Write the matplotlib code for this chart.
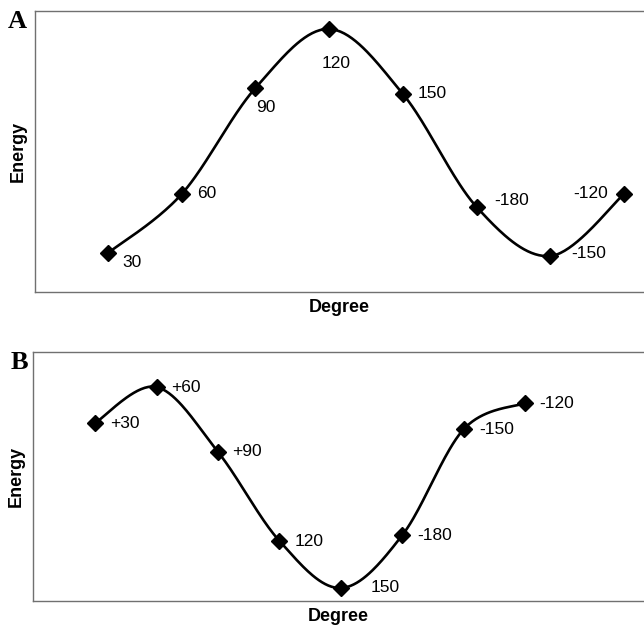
import numpy as np
import matplotlib
matplotlib.use("Agg")
import matplotlib.pyplot as plt

plt.rcParams['font.family'] = ['Liberation Sans', 'DejaVu Sans']

# panel A: conformers and relative energy (arbitrary units)
labels_a = ['30', '60', '90', '120', '150', '-180', '-150', '-120']
energy_a = [39, 98, 204, 263, 198, 85, 36, 98]
# panel B
labels_b = ['+30', '+60', '+90', '120', '150', '-180', '-150', '-120']
energy_b = [178, 214, 149, 60, 13, 66, 172, 198]

# label offsets in pixels (dx, dy) and alignment
offs_a = [(14, -9, 'left'), (15, 0, 'left'), (1, -19, 'left'), (7, -34, 'center'),
          (15, 0, 'left'), (18, 7, 'left'), (21, 3, 'left'), (-16, 0, 'right')]
offs_b = [(15, 0, 'left'), (15, 0, 'left'), (14, 0, 'left'), (15, 0, 'left'),
          (30, 1, 'left'), (15, 0, 'left'), (15, 0, 'left'), (14, 0, 'left')]


def smooth(x, y, n=40):
    # excel-style smoothed line (bezier through points)
    x = np.asarray(x, float)
    y = np.asarray(y, float)
    P = np.column_stack([x, y])
    pts = []
    for i in range(len(P) - 1):
        p0 = P[i - 1] if i > 0 else P[i]
        p1 = P[i]
        p2 = P[i + 1]
        p3 = P[i + 2] if i + 2 < len(P) else P[i + 1]
        c1 = p1 + (p2 - p0) / 6.0
        c2 = p2 - (p3 - p1) / 6.0
        t = np.linspace(0, 1, n)[:, None]
        seg = ((1 - t) ** 3 * p1 + 3 * (1 - t) ** 2 * t * c1
               + 3 * (1 - t) * t ** 2 * c2 + t ** 3 * p2)
        pts.append(seg if i == 0 else seg[1:])
    pts = np.vstack(pts)
    return pts[:, 0], pts[:, 1]


def panel(ax, labels, energy, offs, xlim, ylim):
    x = np.arange(len(energy))
    sx, sy = smooth(x, energy)
    ax.plot(sx, sy, color='black', lw=1.9, zorder=2)
    ax.plot(x, energy, ls='none', marker='D', ms=8, color='black', zorder=3)
    for xi, yi, lab, (dx, dy, ha) in zip(x, energy, labels, offs):
        ax.annotate(lab, (xi, yi), xytext=(dx, dy), textcoords='offset pixels',
                    ha=ha, va='center', fontsize=12.5)
    ax.set_xlim(*xlim)
    ax.set_ylim(*ylim)
    ax.set_xticks([])
    ax.set_yticks([])
    ax.spines['right'].set_visible(False)
    for s in ['left', 'top', 'bottom']:
        ax.spines[s].set_color('#707070')
        ax.spines[s].set_linewidth(1.0)
    ax.set_xlabel('Degree', fontsize=13, fontweight='bold', labelpad=5)
    ax.set_ylabel('Energy', fontsize=13, fontweight='bold', labelpad=6)


fig = plt.figure(figsize=(6.44, 6.25), dpi=100)
ax1 = fig.add_axes([35 / 644, 1 - 292 / 625, 1 - 35 / 644, 281 / 625])
ax2 = fig.add_axes([33 / 644, 1 - 601 / 625, 1 - 33 / 644, 249 / 625])

panel(ax1, labels_a, energy_a, offs_a, (-0.99, 7.27), (0, 281))
panel(ax2, labels_b, energy_b, offs_b, (-1.01, 8.93), (0, 249))

fig.text(17 / 644, 1 - 22 / 625, 'A', fontsize=19, fontweight='bold',
         family='Liberation Serif', ha='center', va='center')
fig.text(19 / 644, 1 - 362 / 625, 'B', fontsize=19, fontweight='bold',
         family='Liberation Serif', ha='center', va='center')

fig.savefig('out.png', dpi=100)
